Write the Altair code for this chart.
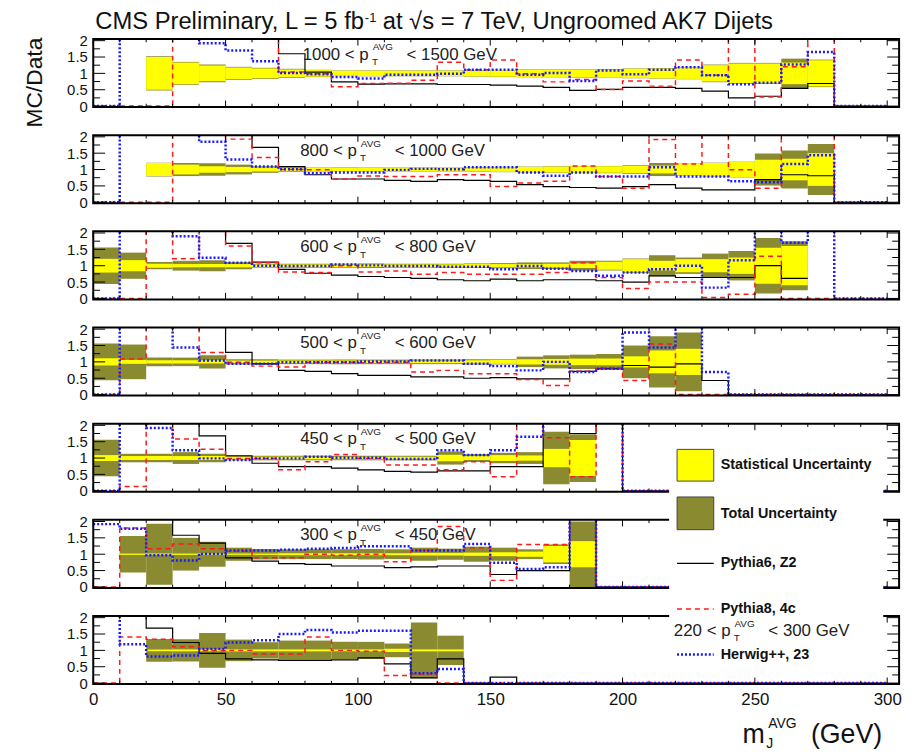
import altair as alt
import pandas as pd

H = 9.0  # value above the visible frame (line leaves the panel at the top)

# ---------- data: one value per 10 GeV bin (0-300 GeV); None = not drawn ----------
panel_ranges = [("1000", "1500"), ("800", "1000"), ("600", "800"), ("500", "600"),
                ("450", "500"), ("300", "450"), ("220", "300")]

herwig = [
    [0, H, H, H, 1.92, 1.70, 1.37, 1.01, 0.97, 0.89, 0.84, 0.96, 0.96, 0.99, 1.11, 1.11, 0.96, 1.01, 0.77, 1.09, 0.97, 1.11, 1.19, 0.94, 0.67, 0.71, 1.27, 1.65, 0, 0],
    [0, H, H, H, 1.85, 1.31, 1.09, 1.01, 0.89, 0.91, 0.91, 0.99, 1.02, 1.01, 1.07, 1.07, 0.91, 0.81, 0.91, 0.79, 0.79, 1.07, 0.79, 0.79, 0.64, 0.61, 1.17, 1.44, 0, 0],
    [0, H, H, 1.90, 1.24, 1.09, 1.00, 0.99, 0.99, 1.04, 1.01, 0.99, 0.99, 0.97, 0.97, 0.89, 0.99, 0.91, 0.84, 0.69, 0.79, 0.89, 1.00, 0.33, 1.17, H, 1.70, H, 0, 0],
    [0, H, H, 1.44, 1.04, 0.94, 0.94, 0.99, 0.99, 0.99, 1.01, 1.01, 1.04, 1.04, 0.94, 0.87, 0.74, 1.00, 0.69, 0.79, 1.90, 1.44, H, 0.69, 0, 0, 0, 0, 0, 0],
    [0, H, 1.92, 1.24, 0.99, 0.94, 0.99, 0.99, 1.04, 1.01, 1.01, 0.97, 0.97, 1.24, 1.09, 1.24, 1.65, H, H, H, 0, 0, 0, 0, 0, 0, 0, 0, 0, 0],
    [1.92, 1.78, 0.97, 0.81, 1.01, 1.11, 1.11, 1.14, 1.17, 1.19, 1.24, 1.24, 1.11, 1.11, 1.31, 0.74, 0.55, 0.60, H, 0, 0, 0, 0, 0, 0, 0, 0, 0, 0, 0],
    [H, 1.19, 0.81, 0.84, 1.04, 1.24, 1.31, 1.50, 1.62, 1.55, 1.60, 1.60, 0.30, 0.43, 0, 0, 0, 0, 0, 0, 0, 0, 0, 0, 0, 0, 0, 0, 0, 0],
]

pythia8 = [
    [0, 0, 0, H, H, H, H, 1.04, 0.99, 0.59, 0.69, 0.70, 0.79, 1.34, 1.11, 1.41, 0.99, 0.74, 0.81, 0.51, 0.77, 0.61, 1.41, 0.94, H, 0.28, 1.20, H, 0, 0],
    [0, 0, 0, H, H, 1.93, 1.37, 1.00, 0.99, 0.71, 0.80, 0.79, 0.79, 0.84, 0.84, 0.48, 0.59, 0.64, 1.11, 0.79, 0.43, 1.92, 1.17, H, 0.99, 0.43, H, H, 0, 0],
    [0, 0, H, 1.21, H, 1.60, 1.09, 0.81, 0.79, 1.00, 0.81, 0.84, 0.74, 0.79, 0.74, 0.74, 0.74, 0.79, 1.09, 0.64, 0.30, 0.50, 0.50, 0.03, 0.13, 1.29, 0, 0, 0, 0],
    [0, 1.09, H, H, 1.29, 0.99, 0.87, 0.84, 0.99, 0.99, 0.97, 0.99, 0.69, 0.74, 0.64, 0.64, 0.46, 0.28, 0.71, 0.81, 0.43, 1.55, 0, 0, 0, 0, 0, 0, 0, 0],
    [0, 0.13, H, 1.58, 1.27, 0.99, 0.99, 0.64, 0.89, 1.11, 0.99, 0.79, 0.79, 0.64, 0.89, 0.43, H, 1.62, 0.43, H, 0, 0, 0, 0, 0, 0, 0, 0, 0, 0],
    [0, 1.80, 1.17, 1.31, 1.17, 1.09, 0.89, 0.89, 1.00, 0.97, 1.00, 0.77, 1.11, 1.85, 1.20, 0.20, 1.30, 1.30, H, 0, 0, 0, 0, 0, 0, 0, 0, 0, 0, 0],
    [0, 1.41, 1.34, 1.11, 0.99, 1.00, 0.89, 0.89, 1.41, 1.00, 0.97, 0.23, 0.28, 0, 0, 0, 0, 0, 0, 0, 0, 0, 0, 0, 0, 0, 0, 0, 0, 0],
]

pythia6 = [
    [H, H, H, H, H, H, H, 1.60, 1.04, 0.74, 0.67, 0.68, 0.68, 0.66, 0.66, 0.64, 0.61, 0.57, 0.48, 0.51, 0.57, 0.57, 0.54, 0.46, 0.25, 0.30, 0.54, 0.69, 0, 0],
    [H, H, H, H, H, H, 1.68, 1.09, 0.84, 0.71, 0.71, 0.67, 0.64, 0.69, 0.67, 0.64, 0.54, 0.48, 0.45, 0.43, 0.48, 0.54, 0.43, 0.38, 0.38, 0.69, 0.84, 0.81, 0, 0],
    [H, H, H, H, H, 1.68, 1.11, 0.89, 0.77, 0.71, 0.67, 0.64, 0.61, 0.57, 0.54, 0.59, 0.54, 0.57, 0.57, 0.54, 0.50, 0.69, 0.64, 0.64, 0.64, 1.00, 0.61, None, None, None],
    [H, H, H, H, H, 1.29, 0.94, 0.74, 0.71, 0.64, 0.59, 0.59, 0.54, 0.54, 0.50, 0.52, 0.48, 0.48, 0.71, 0.79, 0.89, 0.84, 0.94, 0.43, 0, 0, 0, 0, 0, 0],
    [H, H, H, H, 1.68, 1.07, 0.84, 0.74, 0.74, 0.69, 0.64, 0.59, 0.57, 0.61, 0.61, 0.74, 0.74, H, 1.75, H, 0, 0, 0, 0, 0, 0, 0, 0, 0, 0],
    [H, H, H, 1.58, 1.34, 0.89, 0.79, 0.71, 0.69, 0.64, 0.64, 0.59, 0.61, 0.64, 0.64, 0.38, 0.50, 0.50, H, 0, 0, 0, 0, 0, 0, 0, 0, 0, 0, 0],
    [H, H, 1.68, 1.24, 0.91, 0.74, 0.71, 0.69, 0.69, 0.71, 0.77, 0.59, 0.16, 0.74, 0, 0.18, 0, 0, 0, 0, 0, 0, 0, 0, 0, 0, 0, 0, 0, 0],
]

# half-widths of the uncertainty bands around 1
stat_hw = [
    [None, None, 0.50, 0.33, 0.24, 0.18, 0.15, 0.12, 0.10, 0.08, 0.08, 0.08, 0.08, 0.08, 0.09, 0.10, 0.11, 0.11, 0.12, 0.12, 0.14, 0.15, 0.17, 0.25, 0.30, 0.30, 0.33, 0.40],
    [None, None, 0.20, 0.15, 0.10, 0.08, 0.06, 0.05, 0.05, 0.05, 0.05, 0.05, 0.05, 0.05, 0.06, 0.07, 0.08, 0.09, 0.10, 0.10, 0.11, 0.12, 0.17, 0.20, 0.23, 0.30, 0.33, 0.50],
    [0.21, 0.17, 0.06, 0.05, 0.05, 0.05, 0.04, 0.04, 0.04, 0.04, 0.04, 0.04, 0.04, 0.04, 0.05, 0.05, 0.05, 0.06, 0.07, 0.12, 0.20, 0.15, 0.20, 0.20, 0.25, 0.55, 0.60],
    [0.11, 0.06, 0.05, 0.05, 0.05, 0.04, 0.04, 0.04, 0.04, 0.04, 0.04, 0.04, 0.04, 0.04, 0.05, 0.06, 0.08, 0.09, 0.10, 0.10, 0.17, 0.35, 0.40],
    [0.09, 0.06, 0.06, 0.06, 0.06, 0.04, 0.04, 0.04, 0.04, 0.04, 0.04, 0.04, 0.04, 0.10, 0.06, 0.09, 0.08, 0.28, 0.55],
    [None, 0.02, 0.02, 0.02, 0.02, 0.02, 0.02, 0.03, 0.03, 0.03, 0.03, 0.03, 0.04, 0.04, 0.05, 0.06, 0.08, 0.25, 0.40],
    [None, None, 0.03, 0.03, 0.03, 0.03, 0.03, 0.03, 0.03, 0.03, 0.03, 0.05, 0.03, 0.03],
]
tot_hw = [
    [None, None, 0.52, 0.35, 0.27, 0.20, 0.17, 0.14, 0.11, 0.09, 0.09, 0.09, 0.09, 0.09, 0.10, 0.11, 0.12, 0.12, 0.13, 0.13, 0.15, 0.16, 0.18, 0.27, 0.32, 0.32, 0.45, 0.42],
    [None, None, 0.21, 0.20, 0.19, 0.15, 0.10, 0.07, 0.06, 0.06, 0.06, 0.06, 0.06, 0.06, 0.07, 0.08, 0.09, 0.10, 0.11, 0.11, 0.13, 0.20, 0.18, 0.21, 0.24, 0.49, 0.58, 0.78],
    [0.56, 0.40, 0.11, 0.15, 0.17, 0.11, 0.06, 0.06, 0.06, 0.06, 0.07, 0.06, 0.06, 0.06, 0.07, 0.08, 0.10, 0.10, 0.15, 0.15, 0.22, 0.32, 0.25, 0.37, 0.45, 0.85, 0.75],
    [0.56, 0.53, 0.13, 0.13, 0.20, 0.08, 0.08, 0.07, 0.07, 0.07, 0.07, 0.07, 0.07, 0.07, 0.08, 0.08, 0.16, 0.20, 0.22, 0.24, 0.50, 0.78, 0.90],
    [0.56, 0.13, 0.13, 0.18, 0.13, 0.07, 0.07, 0.07, 0.07, 0.07, 0.07, 0.07, 0.07, 0.20, 0.12, 0.16, 0.18, 0.80, 0.73],
    [None, 0.56, 0.93, 0.50, 0.38, 0.20, 0.16, 0.15, 0.15, 0.15, 0.16, 0.15, 0.20, 0.17, 0.23, 0.20, 0.15, 0.30, 1.00],
    [None, None, 0.35, 0.34, 0.53, 0.33, 0.25, 0.30, 0.30, 0.26, 0.26, 0.21, 0.85, 0.45],
]

x_tick_labels = [0, 50, 100, 150, 200, 250, 300]
y_tick_labels = [0, 0.5, 1, 1.5, 2]

legend_items = ["Statistical Uncertainty", "Total Uncertainty", "Pythia6, Z2", "Pythia8, 4c", "Herwig++, 23"]

# ---------- geometry of the stacked panels (single shared scale) ----------
BIN = 10
STEP = 2.94          # vertical distance between panels, in ratio units
Y_LO, Y_HI = -0.03, 2.05
X_MAX = 304.5
W, Hpx = 813, 651
Y_MIN = Y_HI - Hpx / 33.0
FONT = "Liberation Sans"

xs = alt.Scale(domain=[0, X_MAX], nice=False, zero=False)
ys = alt.Scale(domain=[Y_MIN, Y_HI], nice=False, zero=False)

y_axis_values = [v - p * STEP for p in range(7) for v in y_tick_labels]
lab_expr = ("abs(datum.value + 2.94*round((1 - datum.value)/2.94)) < 0.01 ? '0' : "
            "format(datum.value + 2.94*round((1 - datum.value)/2.94), '.1~f')")
x_axis = alt.Axis(values=x_tick_labels, ticks=False, domain=False, grid=False, title=None,
                  labelFontSize=17, labelFont=FONT, labelColor="#111", labelPadding=7,
                  labelFlush=False, labelOverlap=False)
y_axis = alt.Axis(values=y_axis_values, ticks=False, domain=False, grid=False, title=None,
                  labelFontSize=15, labelFont=FONT, labelColor="#111", labelPadding=6,
                  labelExpr=lab_expr, labelOverlap=False, labelFlush=False)


def X(f="x"):
    return alt.X(f"{f}:Q", scale=xs, axis=x_axis)


def Y(f="y"):
    return alt.Y(f"{f}:Q", scale=ys, axis=y_axis)


def clamp(v):
    return max(Y_LO, min(Y_HI, v))


# bands
band_rows = []
for p in range(7):
    off = -p * STEP
    for kind, arr in (("tot", tot_hw[p]), ("stat", stat_hw[p])):
        for i, hw in enumerate(arr):
            if hw is None:
                continue
            band_rows.append(dict(kind=kind, x=i * BIN, x2=(i + 1) * BIN,
                                  y=clamp(1 - hw) + off, y2=clamp(1 + hw) + off))
bands = pd.DataFrame(band_rows)


# step lines; bins above the frame leave the panel (vertical to the top edge, no horizontal run)
def step_rows(name, panels):
    rows = []
    for p, vals in enumerate(panels):
        off = -p * STEP
        seg, order = 0, 0
        state = "gap"   # "gap" (None), "in", "top"
        for i, v in enumerate(vals):
            x0, x1 = i * BIN, (i + 1) * BIN
            if v is None:
                state = "gap"
                continue
            if v >= Y_HI:
                if state == "in":
                    rows.append(dict(key=f"{name}-{p}-{seg}", x=x0, y=Y_HI + off, o=order)); order += 1
                state = "top"
                continue
            if state != "in":
                seg += 1
                if state == "top":
                    rows.append(dict(key=f"{name}-{p}-{seg}", x=x0, y=Y_HI + off, o=order)); order += 1
                state = "in"
            yv = clamp(v) + off
            key = f"{name}-{p}-{seg}"
            rows.append(dict(key=key, x=x0, y=yv, o=order)); order += 1
            rows.append(dict(key=key, x=x1, y=yv, o=order)); order += 1
    return pd.DataFrame(rows)


l6 = step_rows("p6", pythia6)
l8 = step_rows("p8", pythia8)
lh = step_rows("hw", herwig)

# frames
frames = pd.DataFrame([dict(x=0, x2=X_MAX, y=Y_LO - p * STEP, y2=Y_HI - p * STEP) for p in range(7)])

# inner ticks
ytick_rows = []
for p in range(7):
    for k in range(9):
        v = k * 0.25
        ln = 4.5 if k % 2 == 0 else 2.6
        yv = v - p * STEP
        ytick_rows.append(dict(x=0, x2=ln, y=yv))
        ytick_rows.append(dict(x=X_MAX - ln, x2=X_MAX, y=yv))
yticks = pd.DataFrame(ytick_rows)
xtick_rows = []
for p in range(7):
    for g in range(0, 301, 10):
        ln = 0.2 if g % 50 == 0 else 0.1
        xtick_rows.append(dict(x=g, y=Y_LO - p * STEP, y2=Y_LO + ln - p * STEP))
        xtick_rows.append(dict(x=g, y=Y_HI - p * STEP, y2=Y_HI - ln - p * STEP))
xticks = pd.DataFrame(xtick_rows)

tot_layer = alt.Chart(bands[bands.kind == "tot"]).mark_rect(color="#8a8a30").encode(
    x=X(), x2="x2", y=Y(), y2="y2")
stat_layer = alt.Chart(bands[bands.kind == "stat"]).mark_rect(color="#ffff00").encode(
    x=X(), x2="x2", y=Y(), y2="y2")

line6 = alt.Chart(l6).mark_line(color="#000000", strokeWidth=1.2).encode(
    x=X(), y=Y(), detail="key:N", order="o:Q")
line8 = alt.Chart(l8).mark_line(color="#ff1a1a", strokeWidth=1.5, strokeDash=[5, 4]).encode(
    x=X(), y=Y(), detail="key:N", order="o:Q")
lineh = alt.Chart(lh).mark_line(color="#1a1aff", strokeWidth=2.5, strokeDash=[2, 2]).encode(
    x=X(), y=Y(), detail="key:N", order="o:Q")

frame_layer = alt.Chart(frames).mark_rect(fill=None, stroke="black", strokeWidth=2).encode(
    x=X(), x2="x2", y=Y(), y2="y2")
ytick_layer = alt.Chart(yticks).mark_rule(color="black", strokeWidth=1).encode(
    x=X(), x2="x2", y=Y())
xtick_layer = alt.Chart(xticks).mark_rule(color="black", strokeWidth=1).encode(
    x=X(), y=Y(), y2="y2")


def one():
    return pd.DataFrame({"a": [0]})


def txt(t, x, y, size, **kw):
    return alt.Chart(pd.DataFrame({"t": [t]})).mark_text(font=FONT, fontSize=size, color="#111", **kw).encode(
        x=alt.value(x), y=alt.value(y), text="t:N")


# legend (pixel space of the plot area)
leg_bg = alt.Chart(one()).mark_rect(color="white").encode(
    x=alt.value(581), x2=alt.value(797), y=alt.value(404), y2=alt.value(644))
leg_yellow = alt.Chart(one()).mark_rect(color="#ffff00", stroke="#444", strokeWidth=1).encode(
    x=alt.value(589), x2=alt.value(626), y=alt.value(414), y2=alt.value(446))
leg_olive = alt.Chart(one()).mark_rect(color="#8a8a30", stroke="#444", strokeWidth=1).encode(
    x=alt.value(589), x2=alt.value(626), y=alt.value(462), y2=alt.value(495))
leg_l6 = alt.Chart(one()).mark_rule(color="black", strokeWidth=1.2).encode(
    x=alt.value(589), x2=alt.value(626), y=alt.value(529))
leg_l8 = alt.Chart(one()).mark_rule(color="#ff1a1a", strokeWidth=1.5, strokeDash=[5, 4]).encode(
    x=alt.value(589), x2=alt.value(626), y=alt.value(575))
leg_lh = alt.Chart(one()).mark_rule(color="#1a1aff", strokeWidth=2.5, strokeDash=[2, 2]).encode(
    x=alt.value(589), x2=alt.value(626), y=alt.value(621))
leg_texts = [txt(t, 633, yy, 14.5, align="left", baseline="middle", fontWeight="bold")
             for t, yy in zip(legend_items, [430, 479, 529, 575, 621])]

# panel labels  "lo < p_T^AVG < hi GeV"
anchors = [104.1, 99.6, 99.6, 99.6, 99.6, 99.6, 240.8]
lab_rows = []
for p, (lo, hi) in enumerate(panel_ranges):
    a = anchors[p]
    base = (1.42 if p < 6 else 1.45) - p * STEP
    lab_rows.append(dict(t=f"{lo} < p", x=a, y=base, kind="main_r"))
    lab_rows.append(dict(t="AVG", x=a + 1.5, y=base + 0.28, kind="sup"))
    lab_rows.append(dict(t="T", x=a + 1.2, y=base - 0.17, kind="sub"))
    lab_rows.append(dict(t=f"< {hi} GeV", x=a + 14.3, y=base, kind="main_l"))
labs = pd.DataFrame(lab_rows)


def lab_layer(kind, align, size):
    return alt.Chart(labs[labs.kind == kind]).mark_text(
        align=align, baseline="alphabetic", font=FONT, fontSize=size, color="#222").encode(
        x=X(), y=Y(), text="t:N")


lab_layers = [lab_layer("main_r", "right", 17), lab_layer("main_l", "left", 17),
              lab_layer("sup", "left", 10), lab_layer("sub", "left", 10)]

# titles
title = txt("CMS Preliminary, L = 5 fb", 2, -10, 24, align="left", baseline="alphabetic")
title_sup = txt("-1", 274, -17, 13, align="left", baseline="alphabetic")
title2 = txt("at \u221as = 7 TeV, Ungroomed AK7 Dijets", 292, -10, 24, align="left", baseline="alphabetic")
ytitle = txt("MC/Data", -59, 44, 23, align="center", baseline="middle", angle=270)
xt_m = txt("m", 655, 710, 27, align="left", baseline="alphabetic")
xt_sub = txt("J", 679, 715, 14, align="left", baseline="alphabetic")
xt_sup = txt("AVG", 681, 695, 14, align="left", baseline="alphabetic")
xt_gev = txt("(GeV)", 724, 710, 27, align="left", baseline="alphabetic")

chart = alt.layer(
    tot_layer, stat_layer, line6, line8, lineh, frame_layer, ytick_layer, xtick_layer,
    leg_bg, leg_yellow, leg_olive, leg_l6, leg_l8, leg_lh, *leg_texts,
    *lab_layers,
    title, title_sup, title2, ytitle, xt_m, xt_sub, xt_sup, xt_gev,
).properties(
    width=W, height=Hpx,
    autosize=alt.AutoSizeParams(type="none"),
    padding={"left": 86, "top": 28, "right": 12, "bottom": 66},
).configure_view(stroke=None)

chart.save("out.html", embed_options={"renderer": "svg", "actions": False})
